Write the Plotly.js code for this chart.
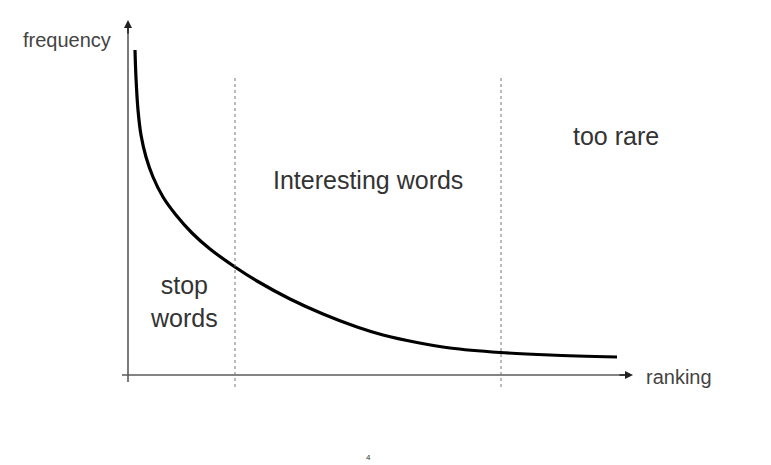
<!DOCTYPE html>
<html>
<head>
<meta charset="utf-8">
<script src="https://cdn.plot.ly/plotly-3.0.1.min.js"></script>
<style>html,body{margin:0;padding:0;background:#fff;}#chart{width:771px;height:465px;}</style>
</head>
<body>
<div id="chart"></div>
<script>
// Zipf-like curve: ranking vs frequency (units relative to axis origin)
const ranking   = [7, 8, 10, 13, 18, 25, 35, 48, 64, 82, 107, 129, 162, 195, 229, 255, 289, 322, 372, 422, 489];
const frequency = [325, 297, 265, 240, 218, 198, 178, 160, 142, 126, 108, 94, 76, 61, 48, 40, 32.5, 27, 22.5, 20, 18];
const boundaries = [107, 373];
const regionLabels = ["stop<br>words", "Interesting words", "too rare"];
const regionLabelX = [56, 240, 488];
const regionLabelY = [74, 195, 239];
const axisTitles = {x: "ranking", y: "frequency"};
const pageNumber = "4";

const FONT = "Liberation Sans, Arial, sans-serif";
const axisColor = "#5a5a5a";

const traces = [{
  x: ranking, y: frequency, type: "scatter", mode: "lines",
  line: {color: "#000", width: 3.2, shape: "spline", smoothing: 1},
  hoverinfo: "skip", showlegend: false
}];

const shapes = [
  {type: "line", xref: "x", yref: "y", x0: 0, x1: 0, y0: -7, y1: 347, line: {color: axisColor, width: 1.6}},
  {type: "line", xref: "x", yref: "y", x0: -6, x1: 498, y0: 0, y1: 0, line: {color: axisColor, width: 1.6}}
];
boundaries.forEach(b => shapes.push({
  type: "line", xref: "x", yref: "y", x0: b, x1: b, y0: -12, y1: 298,
  line: {color: "#777", width: 1, dash: "dot"}
}));

const annotations = [
  {x: 0, y: 355, ax: 0, ay: 340, xref: "x", yref: "y", axref: "x", ayref: "y", text: "", showarrow: true,
   arrowhead: 2, arrowsize: 1, arrowwidth: 1.6, arrowcolor: "#222", standoff: 0},
  {x: 505, y: 0, ax: 490, ay: 0, xref: "x", yref: "y", axref: "x", ayref: "y", text: "", showarrow: true,
   arrowhead: 2, arrowsize: 1, arrowwidth: 1.6, arrowcolor: "#222", standoff: 0},
  {x: -61, y: 335, xref: "x", yref: "y", text: axisTitles.y, showarrow: false,
   font: {family: FONT, size: 20, color: "#444"}},
  {x: 516, y: -2, xref: "x", yref: "y", text: axisTitles.x, showarrow: false, xanchor: "left",
   font: {family: FONT, size: 20, color: "#444"}},
  {x: 240, y: -89, xref: "x", yref: "y", text: pageNumber, showarrow: false, yanchor: "bottom",
   font: {family: FONT, size: 8, color: "#333"}}
];
regionLabels.forEach((t, i) => annotations.push({
  x: regionLabelX[i], y: regionLabelY[i], xref: "x", yref: "y", text: t, showarrow: false,
  font: {family: FONT, size: 25, color: "#333"}
}));

const layout = {
  width: 771, height: 465,
  margin: {l: 0, r: 0, t: 0, b: 0},
  paper_bgcolor: "#fff", plot_bgcolor: "#fff",
  xaxis: {range: [-128, 643], visible: false, fixedrange: true},
  yaxis: {range: [-90, 375], visible: false, fixedrange: true},
  shapes: shapes, annotations: annotations, showlegend: false
};

Plotly.newPlot("chart", traces, layout, {displayModeBar: false, staticPlot: true});
</script>
</body>
</html>
